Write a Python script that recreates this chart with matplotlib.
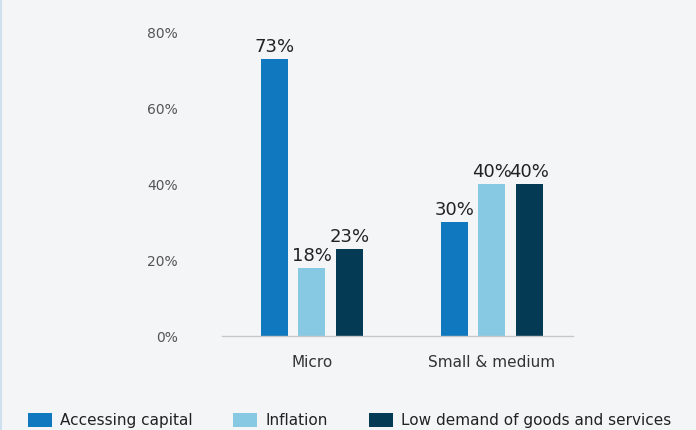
import numpy as np
import matplotlib.pyplot as plt
from matplotlib.lines import Line2D

plt.rcParams['font.family'] = ['DejaVu Sans']

# Share of firms citing each obstacle, by firm size
categories = ['Micro', 'Small & medium']
series_names = ['Accessing capital', 'Inflation', 'Low demand of goods and services']
accessing_capital = [0.73, 0.30]
inflation = [0.18, 0.40]
low_demand = [0.23, 0.40]
yticks = [0, 0.2, 0.4, 0.6, 0.8]

colors = ['#0f78be', '#87c9e3', '#053a55']
bg = '#f4f5f7'

fig = plt.figure(figsize=(6.96, 4.30), dpi=100, facecolor=bg)
ax = fig.add_axes([0.319, 0.2186, 0.504, 0.7047], facecolor=bg)

x = np.arange(len(categories))
width = 0.15
step = 0.208
values = [accessing_capital, inflation, low_demand]

handles = []
for i, (vals, c, name) in enumerate(zip(values, colors, series_names)):
    bars = ax.bar(x + (i - 1) * step, vals, width=width, color=c, label=name)
    handles.append(bars)
    for b, v in zip(bars, vals):
        ax.text(b.get_x() + b.get_width() / 2, v + 0.008, f'{v * 100:.0f}%',
                ha='center', va='bottom', fontsize=13, color='#222222')

ax.set_xlim(-0.5, 1.45)
ax.set_ylim(0, 0.8)
ax.set_yticks(yticks)
ax.set_yticklabels([f'{t * 100:.0f}%' for t in yticks], fontsize=10, color='#555555')
ax.set_xticks(x)
ax.set_xticklabels(categories, fontsize=11, color='#333333')
ax.tick_params(axis='y', length=0, pad=32)
ax.tick_params(axis='x', length=0, pad=14)
for s in ['top', 'right', 'left']:
    ax.spines[s].set_visible(False)
ax.spines['bottom'].set_color('#c8c8c8')
ax.spines['bottom'].set_linewidth(1)

fig.legend(handles=handles, loc='lower left', bbox_to_anchor=(0.02, -0.028), ncol=3,
           frameon=False, fontsize=11, handlelength=1.57, handleheight=1.1,
           columnspacing=2.7, handletextpad=0.52, labelcolor='#222222')

# thin border along the left edge
fig.add_artist(Line2D([0.001, 0.001], [0, 1], color='#cfe0ee', linewidth=1.5, transform=fig.transFigure))

fig.savefig('out.png', dpi=100, facecolor=bg)
